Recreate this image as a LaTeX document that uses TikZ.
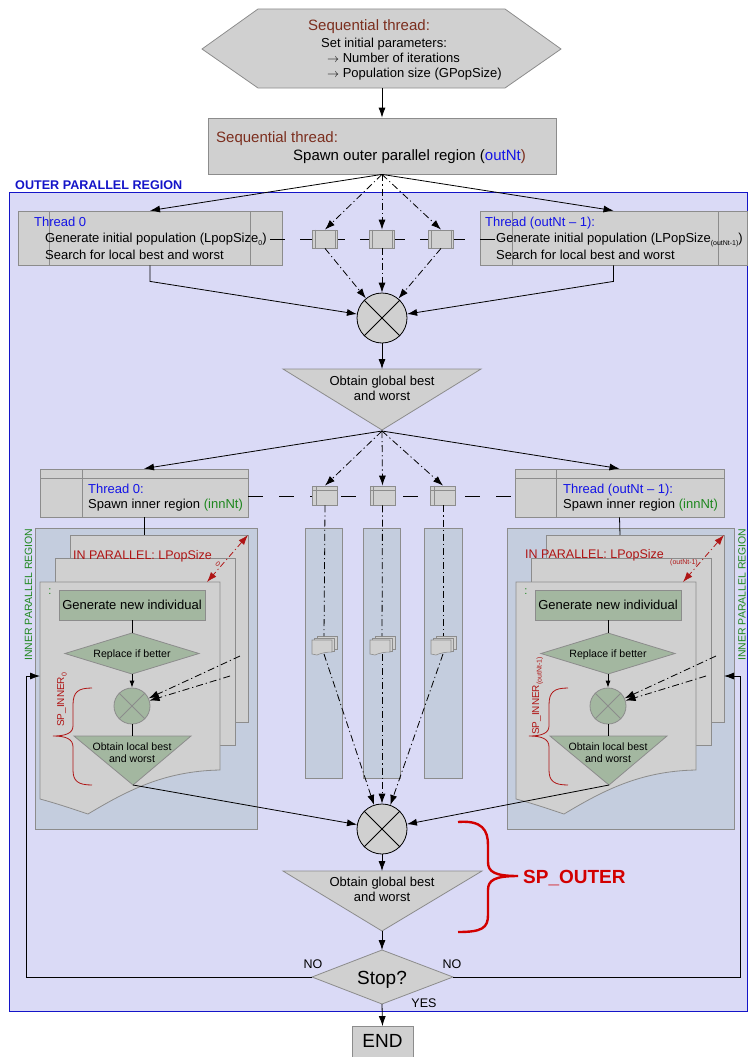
\documentclass[tikz,border=0pt]{standalone}
\usepackage{fontspec}
\setmainfont{Liberation Sans}
\usetikzlibrary{arrows.meta,calc}
\definecolor{lav}{RGB}{218,218,246}
\definecolor{regblue}{RGB}{20,20,200}
\definecolor{bgray}{RGB}{208,208,208}
\definecolor{bord}{RGB}{140,140,140}
\definecolor{inreg}{RGB}{196,205,222}
\definecolor{ggreen}{RGB}{163,183,160}
\definecolor{brn}{RGB}{123,46,30}
\definecolor{tblue}{RGB}{20,20,230}
\definecolor{tgreen}{RGB}{30,135,30}
\definecolor{dred}{RGB}{175,20,20}
\definecolor{bred}{RGB}{210,0,0}
\newcommand\fsz[1]{\fontsize{#1pt}{#1pt}\selectfont}
\newcommand\lowsub[1]{\raisebox{-2.5pt}{\fsz{7}#1}}
\newcommand\docicon[3]{%
  \begin{scope}[shift={(#1,#2)}]
    \filldraw[fill=bgray,draw=bord,line width=0.6pt] (-7,-9) rectangle (13,4);
    \filldraw[fill=bgray,draw=bord,line width=0.6pt] (-9.5,-7) rectangle (10.5,6);
    \filldraw[fill=bgray,draw=bord,line width=0.6pt] (-12,-5) -- (8,-5) -- (8,7) .. controls (3,7) and (-3,8) .. (-7,10) -- (-12,9) -- cycle;
    \coordinate (#3t) at (0,-9);
    \coordinate (#3b) at (0,9);
  \end{scope}}
\tikzset{
  gbox/.style={draw=bord, fill=bgray, line width=0.8pt, inner sep=0pt, rectangle},
  conn/.style={draw=black, line width=0.8pt},
  arr/.style={conn, -{Latex[length=10pt,width=7pt]}},
  sarr/.style={conn, -{Latex[length=7pt,width=5pt]}},
  dd/.style={dash pattern=on 7pt off 3pt on 1.2pt off 3pt},
  rarr/.style={draw=dred, line width=0.8pt, dash pattern=on 6pt off 3pt on 1.2pt off 3pt, {Latex[length=10pt,width=7pt]}-{Latex[length=10pt,width=7pt]}},
  tx/.style={inner sep=0pt, anchor=base west},
  tc/.style={inner sep=0pt, anchor=base},
  pagebox/.style={fill=bgray, draw=bord, line width=0.8pt},
  sbox/.style={gbox, minimum width=25pt, minimum height=18pt},
}
\begin{document}
\begin{tikzpicture}[x=1pt,y=-1pt]
\useasboundingbox (0,0) rectangle (747,1057);

% ---------- outer region ----------
\node[draw=regblue, fill=lav, line width=0.8pt, minimum width=737.5pt, minimum height=819pt, inner sep=0pt, anchor=north west] (outer) at (9,192) {};
\node[tx, font=\fsz{12.6}\bfseries, text=regblue] (outlbl) at (15,189.5) {OUTER PARALLEL REGION};

% ---------- hexagon ----------
\filldraw[fill=bgray, draw=bord, line width=0.8pt] (202,49) -- (258,9) -- (505,9) -- (561,49) -- (505,88) -- (258,88) -- cycle;
\coordinate (hexb) at (382,88);
\node[tx, font=\fsz{15}, text=brn] (h1) at (308,30.4) {Sequential thread:};
\node[tx, font=\fsz{13}] (h2) at (321,47.7) {Set initial parameters:};
\node[tx, font=\fsz{13}] (h3) at (327,62.7) {$\rightarrow$ Number of iterations};
\node[tx, font=\fsz{13}] (h4) at (327,77.7) {$\rightarrow$ Population size (GPopSize)};

% ---------- sequential box ----------
\node[gbox, minimum width=348pt, minimum height=56pt] (seq2) at (382,146) {};
\node[tx, font=\fsz{15}, text=brn] (s1t) at (216,142.4) {Sequential thread:};
\node[tx, font=\fsz{15}] (s2t) at (293,160.4) {Spawn outer parallel region (\textcolor{tblue}{outNt}\textcolor{brn}{)}};
\draw[arr] (hexb) -- (seq2.north);

% ---------- top thread boxes ----------
\node[gbox, minimum width=264pt, minimum height=54pt] (th0) at (150,238) {};
\draw[draw=bord, line width=0.8pt] (49,211) -- (49,265) (250,211) -- (250,265);
\node[tx, font=\fsz{13}, text=tblue] at (34,226.7) {Thread 0};
\node[tx, font=\fsz{13}] at (45,242.7) {Generate initial population (LpopSize\lowsub{0})};
\node[tx, font=\fsz{13}] at (45,259.7) {Search for local best and worst};

\node[gbox, minimum width=267pt, minimum height=54pt] (th1) at (613.5,238) {};
\draw[draw=bord, line width=0.8pt] (512,211) -- (512,265) (718,211) -- (718,265);
\node[tx, font=\fsz{13}, text=tblue] at (485,226.7) {Thread (outNt – 1):};
\node[tx, font=\fsz{13}] at (496,242.7) {Generate initial population (LPopSize\lowsub{(outNt-1)})};
\node[tx, font=\fsz{13}] at (496,259.7) {Search for local best and worst};

\coordinate (dl1a) at (270,239);
\coordinate (dl1b) at (495,239);
\draw[conn, dash pattern=on 15pt off 15pt] (dl1a) -- (dl1b);

\foreach \n/\xx in {1/325,2/382,3/441}{
  \node[sbox] (sa\n) at (\xx,239) {};
  \draw[draw=bord, line width=0.6pt] ($(sa\n.north west)+(3,0)$) -- ($(sa\n.south west)+(3,0)$)
     ($(sa\n.north east)+(-3,0)$) -- ($(sa\n.south east)+(-3,0)$);
}

% circle 1
\node[circle, draw=black, fill=bgray, line width=0.8pt, minimum size=50pt, inner sep=0pt] (c1) at (382,318) {};
\draw[conn] (c1.north west) -- (c1.south east) (c1.north east) -- (c1.south west);

\draw[arr] (seq2.south) -- (th0.north);
\draw[arr] (seq2.south) -- (th1.north);
\foreach \n in {1,2,3}{
  \draw[arr,dd] (seq2.south) -- (sa\n.north);
  \draw[arr,dd] (sa\n.south) -- (c1);
}
\draw[arr] (th0.south) -- ++(0,16) -- (c1);
\draw[arr] (th1.south) -- ++(0,16) -- (c1);

% triangle 1
\filldraw[fill=bgray, draw=bord, line width=0.8pt] (283,369) -- (481,369) -- (382,430) -- cycle;
\coordinate (t1top) at (382,369);
\coordinate (t1tip) at (382,431);
\node[tc, font=\fsz{13}] at (382,385.7) {Obtain global best};
\node[tc, font=\fsz{13}] at (382,400.7) {and worst};
\draw[arr] (c1.south) -- (t1top);

% ---------- second row ----------
\node[gbox, minimum width=208pt, minimum height=48pt] (b0) at (144,493) {};
\draw[draw=bord, line width=0.8pt] (40,478) -- (248,478) (82,469) -- (82,517);
\node[tx, font=\fsz{13}, text=tblue] at (88,493.7) {Thread 0:};
\node[tx, font=\fsz{13}] at (88,508.7) {Spawn inner region \textcolor{tgreen}{(innNt)}};

\node[gbox, minimum width=209pt, minimum height=48pt] (b1) at (619.5,493) {};
\draw[draw=bord, line width=0.8pt] (515,478) -- (724,478) (556,469) -- (556,517);
\node[tx, font=\fsz{13}, text=tblue] at (563,493.7) {Thread (outNt – 1):};
\node[tx, font=\fsz{13}] at (563,508.7) {Spawn inner region \textcolor{tgreen}{(innNt)}};

\coordinate (dl2a) at (248,496);
\coordinate (dl2b) at (515,496);
\draw[conn, dash pattern=on 15pt off 16pt] (dl2a) -- (dl2b);

% columns
\node[draw=bord, fill=inreg, line width=0.8pt, minimum width=37pt, minimum height=250pt, inner sep=0pt] (col1) at (323.5,653) {};
\node[draw=bord, fill=inreg, line width=0.8pt, minimum width=37pt, minimum height=250pt, inner sep=0pt] (col2) at (381.5,653) {};
\node[draw=bord, fill=inreg, line width=0.8pt, minimum width=38pt, minimum height=250pt, inner sep=0pt] (col3) at (443,653) {};

\foreach \n/\xx in {1/325,2/382.5,3/443}{
  \node[gbox, minimum width=25pt, minimum height=19pt] (sb\n) at (\xx,495.5) {};
  \draw[draw=bord, line width=0.6pt] ($(sb\n.north west)+(4,0)$) -- ($(sb\n.south west)+(4,0)$)
     ($(sb\n.north west)+(0,5)$) -- ($(sb\n.north east)+(0,5)$);
}
\docicon{324}{645}{ic1}
\docicon{382}{645}{ic2}
\docicon{443}{645}{ic3}

\draw[arr] (t1tip) -- (b0.north);
\draw[arr] (t1tip) -- (b1.north);
\foreach \n in {1,2,3}{
  \draw[arr,dd] (t1tip) -- (sb\n.north);
  \draw[conn,dd] (sb\n.south) -- (ic\n t);
}

% ---------- inner regions ----------
\node[draw=bord, fill=inreg, line width=0.8pt, minimum width=222pt, minimum height=301pt, inner sep=0pt] (ir0) at (146,678.5) {};
\node[draw=bord, fill=inreg, line width=0.8pt, minimum width=227pt, minimum height=301pt, inner sep=0pt] (ir1) at (620.5,678.5) {};

% bottom circle
\node[circle, draw=black, fill=bgray, line width=0.8pt, minimum size=50pt, inner sep=0pt] (c2) at (382,829) {};
\draw[conn] (c2.north west) -- (c2.south east) (c2.north east) -- (c2.south west);
\foreach \n in {1,2,3}{
  \draw[arr,dd] (ic\n b) -- (c2);
}

\foreach \o/\s in {0/L,476/R}{
  \begin{scope}[shift={(\o,0)}]
    \filldraw[pagebox] (70,535) rectangle (248,722);
    \filldraw[pagebox] (55,558) rectangle (235,745);
    \filldraw[pagebox] (40,582) -- (220,582) -- (220,770) .. controls (165,771) and (128,790) .. (88,814) .. controls (70,808) and (55,803) .. (40,799) -- cycle;
    \coordinate (pgtop\s) at (144,535);
    \node[draw=bord, fill=ggreen, line width=0.8pt, minimum width=146pt, minimum height=30pt, inner sep=0pt, font=\fsz{13}] (gn\s) at (132,605) {Generate new individual};
    \filldraw[fill=ggreen, draw=bord, line width=0.8pt] (65,653.5) -- (132,633) -- (199,653.5) -- (132,674) -- cycle;
    \coordinate (dmt\s) at (132,633);
    \coordinate (dmb\s) at (132,674);
    \node[tc, font=\fsz{10.6}] at (132,657.3) {Replace if better};
    \node[circle, draw=bord, fill=ggreen, line width=0.8pt, minimum size=36pt, inner sep=0pt] (sc\s) at (132,706) {};
    \draw[draw=bord, line width=0.8pt] (sc\s.north west) -- (sc\s.south east) (sc\s.north east) -- (sc\s.south west);
    \filldraw[fill=ggreen, draw=bord, line width=0.8pt] (74,736) -- (191,736) -- (133,785) -- cycle;
    \coordinate (itt\s) at (132,736);
    \coordinate (itp\s) at (133,785);
    \node[tc, font=\fsz{10.6}] at (132,750) {Obtain local best};
    \node[tc, font=\fsz{10.6}] at (132,762) {and worst};
    \draw[conn] (gn\s.south) -- (dmt\s);
    \draw[sarr] (dmb\s) -- (sc\s.north);
    \draw[conn] (sc\s.south) -- (itt\s);
    \coordinate (da\s) at (240,656);
    \coordinate (db\s) at (230,676);
    \draw[arr,dd] (da\s) -- (sc\s);
    \draw[arr,dd] (db\s) -- (sc\s);
    \draw[draw=dred, line width=0.8pt] (92,688) .. controls (78,688) and (73,692) .. (73,705) -- (73,726) .. controls (73,733) and (66,736) .. (53,736) .. controls (66,736) and (73,739) .. (73,747) -- (73,770) .. controls (73,781) and (78,785) .. (92,785);
    \node[text=tgreen, font=\fsz{11}] at (50,592) {:};
    \coordinate (ra\s) at (248,535);
    \coordinate (rb\s) at (207,582);
    \draw[rarr] (ra\s) -- (rb\s);
  \end{scope}
}
\draw[conn] (b0.south) -- (pgtopL);
\draw[conn] (b1.south) -- (pgtopR);
\draw[arr] (itpL) -- (c2);
\draw[arr] (itpR) -- (c2);

% inner texts
\node[tx, font=\fsz{12.5}, text=dred] at (73,559.5) {IN PARALLEL: LPopSize};
\node[inner sep=0pt, font=\fsz{7}, text=dred, rotate=-45] at (218,564) {0};
\node[tx, font=\fsz{12.5}, text=dred] at (525,558.5) {IN PARALLEL: LPopSize};
\node[tx, font=\fsz{7}, text=dred] at (670,564) {(outNt-1)};
\node[tx, font=\fsz{10}, text=dred, rotate=90] at (64,727) {SP\_INNER\lowsub{0}};
\node[tx, font=\fsz{10}, text=dred, rotate=90] at (539,735) {SP\_INNER\lowsub{(outNt-1)}};
\node[tx, font=\fsz{10.5}, text=tgreen, rotate=90] at (32,661) {INNER PARALLEL REGION};
\node[tx, font=\fsz{10.5}, text=tgreen, rotate=90] at (745.5,661) {INNER PARALLEL REGION};

% ---------- bottom ----------
\filldraw[fill=bgray, draw=bord, line width=0.8pt] (283,871) -- (482,871) -- (382,931) -- cycle;
\coordinate (t2top) at (382,871);
\coordinate (t2tip) at (382,931);
\node[tc, font=\fsz{13}] at (382,886.7) {Obtain global best};
\node[tc, font=\fsz{13}] at (382,901.7) {and worst};
\draw[arr] (c2.south) -- (t2top);

\filldraw[fill=bgray, draw=bord, line width=0.8pt] (312,977) -- (382,950) -- (453,977) -- (382,1004) -- cycle;
\coordinate (stn) at (382,950);
\coordinate (sts) at (382,1004);
\coordinate (stw) at (312,977);
\coordinate (ste) at (453,977);
\node[tc, font=\fsz{19}] (stop) at (382,984.8) {Stop?};
\draw[arr] (t2tip) -- (stn);
\node[tc, font=\fsz{12.5}] at (313,968.5) {NO};
\node[tc, font=\fsz{12.5}] at (452,968.5) {NO};
\node[tc, font=\fsz{12.5}] at (424,1007.5) {YES};

\node[gbox, minimum width=61pt, minimum height=31pt] (endb) at (382.5,1042) {};
\node[tc, font=\fsz{19}] at (382.5,1047) {END};
\draw[arr] (sts) -- (endb.north);

\coordinate (lpL) at (40,676);
\coordinate (lpR) at (724,676);
\draw[arr] (stw) -- (26,977) -- (26,676) -- (lpL);
\draw[arr] (ste) -- (740,977) -- (740,676) -- (lpR);

% SP_OUTER brace
\draw[draw=bred, line width=2.4pt] (458,822) .. controls (482,820) and (488,830) .. (488,845) -- (488,862) .. controls (488,872) and (495,876) .. (518,876) .. controls (495,876) and (488,880) .. (488,890) -- (488,915) .. controls (488,928) and (482,932) .. (458,932);
\node[tx, font=\fsz{19}\bfseries, text=bred] (spo) at (523,883) {SP\_OUTER};
\end{tikzpicture}
\end{document}
